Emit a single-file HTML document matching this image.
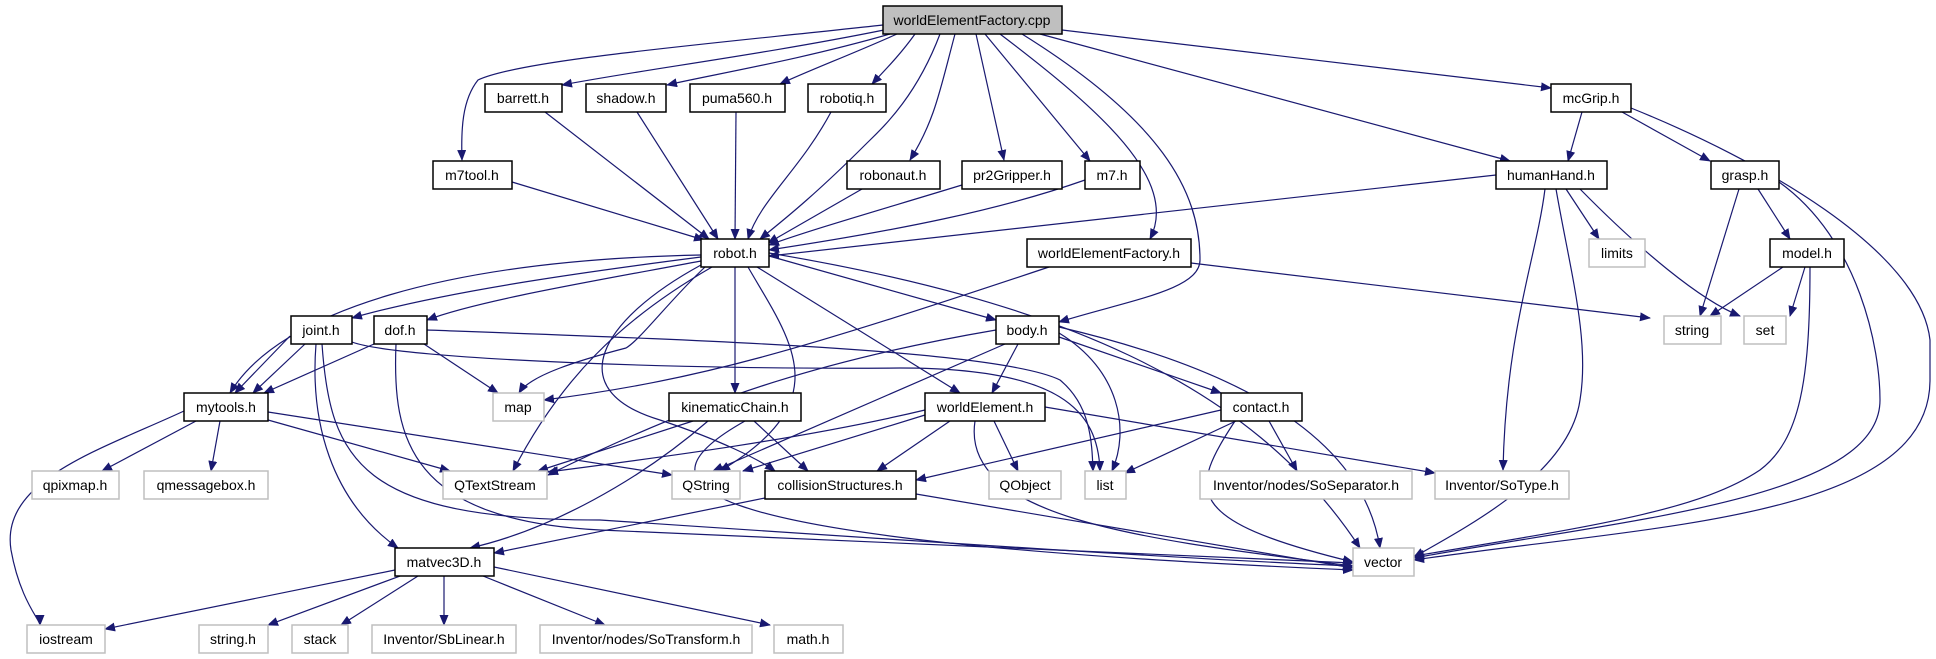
<!DOCTYPE html>
<html><head><meta charset="utf-8"><style>
html,body{margin:0;padding:0;background:#fff;}
svg{display:block}
text{font-family:"Liberation Sans",sans-serif;font-size:14px;fill:#000;text-anchor:middle}
.e{fill:none;stroke:#191970;stroke-width:1.2}
.n{fill:#fff;stroke:#000;stroke-width:1.5}
.g{fill:#fff;stroke:#bfbfbf;stroke-width:1.5}
</style></head><body>
<svg width="1936" height="659" viewBox="0 0 1936 659" xmlns="http://www.w3.org/2000/svg">
<defs><marker id="a" markerWidth="11" markerHeight="9" refX="10" refY="4.5" orient="auto" markerUnits="userSpaceOnUse"><path d="M0,0 L11,4.5 L0,9 z" fill="#191970"/></marker></defs>
<g class="e" marker-end="url(#a)">
<path d="M883,25 C700,45 520,60 478,80 C462,100 461,130 462,160"/>
<path d="M884,30 C760,55 640,70 562,85"/>
<path d="M890,34 C800,60 710,75 667,85"/>
<path d="M897,34 C850,55 810,70 780,84"/>
<path d="M915,34 C900,55 885,70 872,84"/>
<path d="M940,34 C915,100 880,130 865,145 C820,190 790,215 760,239"/>
<path d="M955,34 C940,90 935,120 910,160"/>
<path d="M976,34 L1004,160"/>
<path d="M985,34 L1090,161"/>
<path d="M1000,34 C1100,110 1180,180 1150,239"/>
<path d="M1022,34 C1160,120 1200,190 1200,260 C1200,290 1130,300 1059,322"/>
<path d="M1040,34 L1510,161"/>
<path d="M1062,30 L1551,88"/>
<path d="M512,182 L704,240"/>
<path d="M545,112 L709,239"/>
<path d="M637,112 L718,239"/>
<path d="M736,112 L735,239"/>
<path d="M831,112 C800,170 760,200 748,239"/>
<path d="M862,189 L768,243"/>
<path d="M962,185 C880,210 810,230 769,245"/>
<path d="M1085,180 C1000,210 900,230 769,250"/>
<path d="M1496,175 L769,256"/>
<path d="M1582,112 L1568,161"/>
<path d="M1622,112 L1710,161"/>
<path d="M1631,108 C1760,160 1920,250 1930,340 L1930,380 C1930,520 1650,525 1414,560"/>
<path d="M1566,189 L1599,239"/>
<path d="M1580,189 C1640,250 1700,300 1740,316"/>
<path d="M1556,189 C1570,270 1590,340 1580,400 C1570,470 1480,520 1414,557"/>
<path d="M1545,189 C1536,260 1506,330 1503,470"/>
<path d="M1739,189 L1700,316"/>
<path d="M1758,189 L1790,239"/>
<path d="M1779,182 C1860,240 1880,350 1880,400 C1880,500 1620,520 1414,558"/>
<path d="M1783,267 L1710,316"/>
<path d="M1805,267 L1790,316"/>
<path d="M1810,267 C1810,380 1800,440 1760,470 C1700,510 1600,525 1414,556"/>
<path d="M1191,263 L1650,318"/>
<path d="M1049,267 C800,350 700,380 544,400"/>
<path d="M701,255 C450,260 280,310 230,393"/>
<path d="M701,257 C600,270 450,290 352,318"/>
<path d="M701,261 C600,280 480,300 427,320"/>
<path d="M705,267 C670,300 640,340 626,348 C580,360 530,375 519,393"/>
<path d="M712,267 C620,320 560,380 513,471"/>
<path d="M735,267 L735,393"/>
<path d="M748,267 C790,340 840,400 720,471"/>
<path d="M757,267 L960,393"/>
<path d="M769,256 L996,320"/>
<path d="M701,265 C600,320 560,390 660,420 C720,440 760,460 775,471"/>
<path d="M769,253 C1050,300 1250,380 1360,548"/>
<path d="M305,344 L253,393"/>
<path d="M290,336 L235,393"/>
<path d="M352,342 C400,360 700,370 900,368 C1060,368 1098,410 1100,471"/>
<path d="M316,344 C310,420 330,500 398,548"/>
<path d="M322,344 C330,460 360,520 600,520 C900,540 1200,560 1353,566"/>
<path d="M374,344 L264,393"/>
<path d="M424,344 L498,393"/>
<path d="M427,330 C700,340 1000,350 1060,380 C1090,405 1092,440 1093,471"/>
<path d="M396,344 C392,440 410,520 600,530 C900,545 1200,555 1353,563"/>
<path d="M996,330 C820,360 700,400 548,475"/>
<path d="M1005,344 L713,471"/>
<path d="M1018,344 L992,393"/>
<path d="M1059,337 L1221,393"/>
<path d="M1059,333 C1120,370 1130,430 1112,471"/>
<path d="M1059,327 C1200,360 1360,420 1380,548"/>
<path d="M184,411 C100,450 0,480 11,550 C20,600 40,620 40,625"/>
<path d="M196,421 L102,471"/>
<path d="M220,421 L211,471"/>
<path d="M268,420 L450,471"/>
<path d="M268,412 L672,475"/>
<path d="M693,421 L538,471"/>
<path d="M708,421 C640,480 550,530 470,548"/>
<path d="M754,421 L808,471"/>
<path d="M745,421 C640,480 640,540 1353,570"/>
<path d="M925,410 C800,440 640,460 548,472"/>
<path d="M925,415 L743,471"/>
<path d="M950,421 L877,471"/>
<path d="M994,421 L1018,471"/>
<path d="M1045,407 L1435,473"/>
<path d="M975,421 C960,520 1150,540 1353,566"/>
<path d="M1221,410 L916,480"/>
<path d="M1236,421 L1125,473"/>
<path d="M1269,421 L1297,471"/>
<path d="M1235,421 C1190,490 1180,520 1353,562"/>
<path d="M765,498 L494,553"/>
<path d="M916,494 L1353,568"/>
<path d="M395,570 L105,629"/>
<path d="M400,576 L268,625"/>
<path d="M418,576 L341,625"/>
<path d="M444,576 L444,625"/>
<path d="M483,576 L605,625"/>
<path d="M494,567 L770,625"/>
</g>
<g>
<rect x="883" y="6" width="179" height="28" fill="#bfbfbf" stroke="#000" stroke-width="1.5"/><text x="972" y="25">worldElementFactory.cpp</text>
<rect class="n" x="485" y="84" width="77" height="28"/><text x="523" y="103">barrett.h</text>
<rect class="n" x="586" y="84" width="80" height="28"/><text x="626" y="103">shadow.h</text>
<rect class="n" x="690" y="84" width="95" height="28"/><text x="737" y="103">puma560.h</text>
<rect class="n" x="808" y="84" width="78" height="28"/><text x="847" y="103">robotiq.h</text>
<rect class="n" x="1551" y="84" width="80" height="28"/><text x="1591" y="103">mcGrip.h</text>
<rect class="n" x="433" y="161" width="79" height="28"/><text x="472" y="180">m7tool.h</text>
<rect class="n" x="847" y="161" width="93" height="28"/><text x="893" y="180">robonaut.h</text>
<rect class="n" x="962" y="161" width="100" height="28"/><text x="1012" y="180">pr2Gripper.h</text>
<rect class="n" x="1085" y="161" width="55" height="28"/><text x="1112" y="180">m7.h</text>
<rect class="n" x="1496" y="161" width="111" height="28"/><text x="1551" y="180">humanHand.h</text>
<rect class="n" x="1711" y="161" width="68" height="28"/><text x="1745" y="180">grasp.h</text>
<rect class="n" x="701" y="239" width="68" height="28"/><text x="735" y="258">robot.h</text>
<rect class="n" x="1027" y="239" width="164" height="28"/><text x="1109" y="258">worldElementFactory.h</text>
<rect class="g" x="1589" y="239" width="56" height="28"/><text x="1617" y="258">limits</text>
<rect class="n" x="1770" y="239" width="74" height="28"/><text x="1807" y="258">model.h</text>
<rect class="n" x="291" y="316" width="61" height="28"/><text x="321" y="335">joint.h</text>
<rect class="n" x="374" y="316" width="53" height="28"/><text x="400" y="335">dof.h</text>
<rect class="n" x="996" y="316" width="63" height="28"/><text x="1027" y="335">body.h</text>
<rect class="g" x="1664" y="316" width="57" height="28"/><text x="1692" y="335">string</text>
<rect class="g" x="1744" y="316" width="42" height="28"/><text x="1765" y="335">set</text>
<rect class="n" x="184" y="393" width="84" height="28"/><text x="226" y="412">mytools.h</text>
<rect class="g" x="493" y="393" width="51" height="28"/><text x="518" y="412">map</text>
<rect class="n" x="669" y="393" width="132" height="28"/><text x="735" y="412">kinematicChain.h</text>
<rect class="n" x="925" y="393" width="120" height="28"/><text x="985" y="412">worldElement.h</text>
<rect class="n" x="1221" y="393" width="81" height="28"/><text x="1261" y="412">contact.h</text>
<rect class="g" x="32" y="471" width="87" height="28"/><text x="75" y="490">qpixmap.h</text>
<rect class="g" x="144" y="471" width="124" height="28"/><text x="206" y="490">qmessagebox.h</text>
<rect class="g" x="443" y="471" width="104" height="28"/><text x="495" y="490">QTextStream</text>
<rect class="g" x="672" y="471" width="68" height="28"/><text x="706" y="490">QString</text>
<rect class="n" x="765" y="471" width="151" height="28"/><text x="840" y="490">collisionStructures.h</text>
<rect class="g" x="989" y="471" width="72" height="28"/><text x="1025" y="490">QObject</text>
<rect class="g" x="1085" y="471" width="41" height="28"/><text x="1105" y="490">list</text>
<rect class="g" x="1200" y="471" width="212" height="28"/><text x="1306" y="490">Inventor/nodes/SoSeparator.h</text>
<rect class="g" x="1435" y="471" width="134" height="28"/><text x="1502" y="490">Inventor/SoType.h</text>
<rect class="n" x="395" y="548" width="99" height="28"/><text x="444" y="567">matvec3D.h</text>
<rect class="g" x="1353" y="548" width="61" height="28"/><text x="1383" y="567">vector</text>
<rect class="g" x="27" y="625" width="78" height="28"/><text x="66" y="644">iostream</text>
<rect class="g" x="199" y="625" width="69" height="28"/><text x="233" y="644">string.h</text>
<rect class="g" x="292" y="625" width="56" height="28"/><text x="320" y="644">stack</text>
<rect class="g" x="372" y="625" width="144" height="28"/><text x="444" y="644">Inventor/SbLinear.h</text>
<rect class="g" x="540" y="625" width="212" height="28"/><text x="646" y="644">Inventor/nodes/SoTransform.h</text>
<rect class="g" x="774" y="625" width="69" height="28"/><text x="808" y="644">math.h</text>
</g>
</svg>
</body></html>
